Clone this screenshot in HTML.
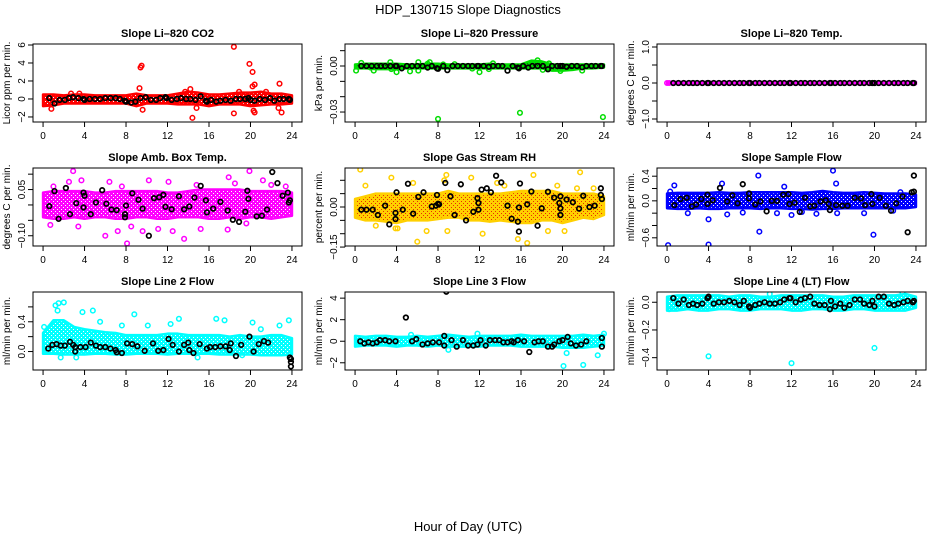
<!DOCTYPE html>
<html><head><meta charset="utf-8"><style>
body{margin:0;background:#fff}
svg{display:block;font-family:"Liberation Sans",Arial,sans-serif}
</style></head><body>
<svg id="chart" width="936" height="540" viewBox="0 0 936 540">
<defs id="defs"></defs>
<text x="468" y="14" font-size="13" text-anchor="middle">HDP_130715  Slope Diagnostics</text>
<text x="468" y="531" font-size="13" text-anchor="middle">Hour of Day (UTC)</text>
</svg>
<script>
// ---------- shared ----------
const xTicks = [0,4,8,12,16,20,24];
const hours = [0,1,2,3,4,5,6,7,8,9,10,11,12,13,14,15,16,17,18,19,20,21,22,23,24];
const blackHours = [0.6,1.1,1.6,2.1,2.5,2.9,3.4,3.9,4.0,4.5,5.0,5.5,6.0,6.5,7.0,7.4,7.9,8.0,8.5,8.9,9.4,9.9,10.4,10.9,11.3,11.8,11.9,12.4,12.9,13.3,13.8,14.2,14.7,15.2,15.7,15.8,16.2,16.7,17.1,17.6,18.1,18.6,19.0,19.5,19.8,20.0,20.4,20.9,21.4,21.9,22.3,22.8,23.2,23.7,23.8];

// ---------- P1 CO2 ----------
const co2Lo = [-0.8,-0.7,-0.5,-0.5,-0.5,-0.5,-0.5,-0.5,-0.5,-0.8,-0.5,-0.5,-0.5,-0.6,-0.6,-0.6,-0.8,-0.6,-0.6,-0.6,-0.8,-0.7,-0.6,-0.6,-0.5];
const co2Hi = [0.5,0.5,0.4,0.5,0.5,0.4,0.4,0.4,0.4,0.6,0.4,0.4,0.4,0.6,0.8,0.7,0.5,0.5,0.6,0.7,0.7,0.8,0.6,0.6,0.4];
const co2X = [9.4,9.5,9.3,9.6,0.8,14.4,14.2,14.8,18.4,18.4,19.9,20.2,20.4,20.2,20.3,20.4,22.8,23.0,22.7,21.5,13.7,18.9,2.7,3.5];
const co2Y = [3.5,3.7,1.2,-1.2,-1.1,-2.1,1.1,-1.0,5.8,-1.6,3.9,3.0,1.6,1.4,-1.3,-1.5,1.7,-1.5,-1.0,0.8,0.8,0.8,0.6,0.6];
const co2BlackY = [0.1,-0.5,-0.1,-0.1,0.1,0.2,0.1,0,-0.1,0,0,0,0.1,0.1,0.1,0,-0.2,-0.3,-0.4,-0.3,0.1,0.2,-0.1,-0.1,0.1,0.2,0.1,-0.1,0,0.1,0,0,-0.1,0.3,-0.2,-0.3,-0.1,-0.3,-0.2,-0.1,-0.2,0,0,0,0.1,-0.1,-0.2,0,-0.1,0.1,-0.2,0,0,0,-0.1];

// ---------- P2 pressure ----------
const prsLo = [-0.0015,-0.0015,-0.002,-0.002,-0.002,-0.0015,-0.0015,-0.0015,-0.0015,-0.0015,-0.0015,-0.0015,-0.0015,-0.0015,-0.0015,-0.0015,-0.0015,-0.0015,-0.0015,-0.003,-0.003,-0.0025,-0.0015,-0.0015,-0.001];
const prsHi = [0.001,0.0015,0.0015,0.0015,0.0015,0.001,0.001,0.0015,0.0015,0.001,0.001,0.001,0.001,0.0015,0.001,0.001,0.001,0.0035,0.003,0.001,0.001,0.001,0.001,0.001,0.001];
const prsX = [0.1,0.6,1.8,3.4,3.5,4.0,5.3,6.1,6.1,7.2,7.0,8.0,9.6,12.0,15.9,17.6,18.1,18.7,19.8,21.9,23.9,11.3,12.9,8.5,1.5,13.3];
const prsY = [-0.003,0.002,-0.003,0.0025,-0.002,-0.004,-0.0035,-0.003,0.0025,0.0025,0.0015,-0.0345,0.0012,-0.004,-0.0305,0.0037,-0.0025,0.0017,-0.0032,-0.003,-0.0333,-0.0017,-0.002,0.001,-0.001,0.0018];
const prsBlackY = [0,0,0,0,0,0,0,0,0,-0.0015,0,0,0,0,-0.001,0,-0.0015,-0.0018,0,-0.0027,0,0,0,0,0,0,0,0,-0.0005,0,0,0,-0.003,0,-0.001,-0.0015,0,-0.001,0,0,0,-0.0021,0,0,0,0,-0.0005,0,0,-0.0008,0,0,0,0,0];

// ---------- P3 Li-820 temp ----------
const tmpLo = [-0.03,-0.03,-0.03,-0.03,-0.03,-0.03,-0.03,-0.03,-0.03,-0.03,-0.03,-0.03,-0.03,-0.03,-0.03,-0.03,-0.03,-0.03,-0.03,-0.03,-0.03,-0.03,-0.03,-0.03,-0.03];
const tmpHi = [0.03,0.03,0.03,0.03,0.03,0.03,0.03,0.03,0.03,0.03,0.03,0.03,0.03,0.03,0.03,0.03,0.03,0.03,0.03,0.03,0.03,0.03,0.03,0.03,0.03];
const tmpX = [0.0,0.2];
const tmpY = [0,0];
const tmpBlackY = [0,0,0,0,0,0,0,0,0,0,0,0,0,0,0,0,0,0,0,0,0,0,0,0,0,0,0,0,0,0,0,0,0,0,0,0,0,0,0,0,0,0,0,0,0,0,0,0,0,0,0,0,0,0,0];

// ---------- P4 amb box temp ----------
const ambLo = [-0.04,-0.045,-0.045,-0.04,-0.045,-0.04,-0.04,-0.045,-0.045,-0.04,-0.04,-0.045,-0.045,-0.04,-0.04,-0.04,-0.045,-0.045,-0.04,-0.045,-0.04,-0.04,-0.045,-0.04,-0.035];
const ambHi = [0.04,0.045,0.045,0.045,0.045,0.04,0.04,0.045,0.045,0.045,0.045,0.045,0.04,0.04,0.045,0.05,0.05,0.05,0.05,0.05,0.045,0.045,0.045,0.045,0.04];
const ambX = [2.9,1.0,3.7,6.4,7.6,10.2,12.1,17.9,19.9,21.2,22.0,6.0,7.2,8.1,9.6,11.1,13.6,15.2,17.8,19.6,3.4,0.7,8.5,12.5,2.5,14.8,18.5,23.4];
const ambY = [0.11,0.06,0.08,0.075,0.06,0.08,0.075,0.09,0.11,0.08,0.065,-0.1,-0.085,-0.125,-0.085,-0.078,-0.11,-0.078,-0.08,-0.06,-0.07,-0.065,-0.07,-0.085,0.075,0.065,0.07,0.06];
const ambBX = [0.6,1.1,1.5,2.2,2.6,3.2,3.9,4.0,3.9,4.6,5.1,5.7,6.1,6.6,7.1,7.9,7.9,8.0,8.6,9.2,9.6,10.2,10.7,11.2,11.6,11.8,12.4,13.1,13.6,14.1,14.6,15.2,15.7,15.8,16.4,17.1,17.8,18.3,18.9,19.5,19.7,19.8,20.6,21.1,21.6,22.1,22.6,23.1,23.6,23.7,23.8];
const ambBY = [-0.004,0.045,-0.045,0.055,-0.03,0.006,0.04,0.03,-0.008,-0.03,0.008,0.048,0.004,-0.015,-0.017,-0.03,-0.04,-0.002,0.038,0.017,-0.012,-0.1,0.022,0.025,0.033,-0.006,-0.014,0.028,-0.014,-0.005,0.024,0.062,0.015,-0.024,-0.012,0.01,-0.018,-0.048,-0.055,-0.022,0.046,0.02,-0.037,-0.035,-0.015,0.107,0.071,0.03,0.04,0.008,0.015];

// ---------- P5 gas stream RH ----------
const rhLo = [-0.04,-0.05,-0.05,-0.055,-0.06,-0.05,-0.05,-0.05,-0.045,-0.04,-0.04,-0.05,-0.05,-0.055,-0.05,-0.055,-0.06,-0.06,-0.05,-0.05,-0.06,-0.05,-0.04,-0.045,-0.03];
const rhHi = [0.03,0.04,0.05,0.05,0.05,0.05,0.05,0.05,0.05,0.06,0.05,0.05,0.05,0.05,0.05,0.055,0.06,0.06,0.06,0.06,0.05,0.05,0.05,0.05,0.04];
const rhX = [0.5,1.0,3.5,4.8,6.0,3.9,4.1,6.9,8.8,8.9,12.3,15.7,16.6,17.2,18.6,20.2,21.4,21.7,13.7,11.2,8.6,5.6,2.0,14.4,19.5,23.0];
const rhY = [0.14,0.08,0.11,-0.16,-0.13,-0.08,-0.08,-0.09,0.12,-0.09,-0.1,-0.12,-0.135,0.12,-0.09,-0.09,0.07,0.13,0.09,0.11,0.1,0.09,-0.07,0.08,0.08,0.07];
const rhBX = [0.6,1.1,1.7,2.2,2.9,3.3,3.9,3.9,4.0,4.6,5.1,5.6,6.1,6.6,7.4,7.8,8.0,8.1,7.9,8.7,9.2,9.6,10.2,10.7,11.4,11.8,11.9,11.9,12.2,12.7,13.1,13.6,14.1,14.7,15.1,15.7,15.8,15.8,15.9,16.6,17.0,17.6,18.0,18.6,19.2,19.7,19.8,19.8,19.8,20.4,21.0,21.6,22.0,22.6,23.1,23.7,23.7,23.8];
const rhBY = [-0.01,-0.01,-0.01,-0.03,0.005,-0.065,-0.045,-0.022,0.055,-0.01,0.087,-0.025,0.038,0.055,0.002,0.005,0.012,0.01,0.045,0.09,0.04,-0.03,0.085,-0.05,-0.018,0.033,0.015,-0.01,0.065,0.07,0.055,0.117,0.092,0.005,-0.044,-0.055,-0.002,-0.092,0.088,0.01,0.058,-0.07,-0.005,0.057,0.035,0.015,0.04,-0.005,-0.03,0.028,0.018,-0.006,0.042,0.0,0.005,0.07,0.045,0.03];

// ---------- P6 sample flow ----------
const sfLo = [-0.12,-0.13,-0.13,-0.12,-0.13,-0.13,-0.12,-0.12,-0.12,-0.13,-0.12,-0.12,-0.13,-0.13,-0.14,-0.13,-0.13,-0.12,-0.12,-0.12,-0.12,-0.12,-0.12,-0.12,-0.1];
const sfHi = [0.12,0.13,0.13,0.13,0.13,0.14,0.13,0.13,0.14,0.14,0.14,0.14,0.14,0.13,0.14,0.16,0.14,0.13,0.13,0.14,0.13,0.12,0.12,0.12,0.1];
const sfX = [0.1,4.0,4.0,8.8,8.9,16.0,16.3,0.7,5.3,11.3,19.9,12.0,2.0,5.8,10.6,14.4,16.4,19.0,21.8,0.3,7.3,13.0,22.5];
const sfY = [-0.72,-0.71,-0.3,0.41,-0.5,0.49,0.28,0.25,0.28,0.23,-0.55,-0.23,-0.2,-0.22,-0.2,-0.21,-0.2,-0.2,-0.16,0.15,-0.19,-0.18,0.14];
const sfBX = [0.7,1.3,1.9,2.4,2.8,3.3,3.9,3.9,4.4,5.1,5.8,6.3,6.8,7.3,7.9,7.9,8.5,9.0,9.6,10.1,10.6,11.2,11.7,11.8,12.3,12.8,13.3,13.8,14.2,14.8,15.3,15.6,15.7,16.3,16.9,17.4,18.1,18.7,19.1,19.7,19.8,20.5,21.1,21.6,22.1,22.7,23.2,23.6,23.8,23.8];
const sfBY = [-0.07,0.03,0.05,-0.09,-0.06,0.03,0.1,-0.05,0.01,0.21,-0.01,0.09,-0.04,0.27,0.12,0.04,-0.06,-0.01,-0.17,0,0,0.1,0.11,-0.05,-0.03,-0.18,0.05,-0.09,-0.08,-0.01,0.01,-0.05,-0.15,-0.07,-0.08,-0.08,0.05,0.04,-0.07,0.11,-0.05,0.05,-0.08,-0.16,-0.04,0.07,-0.51,0.14,0.15,0.41];

// ---------- P7 line 2 flow ----------
const l2Lo = [-0.03,-0.03,-0.04,-0.04,-0.04,-0.03,-0.03,-0.04,-0.04,-0.03,-0.03,-0.03,-0.04,-0.03,-0.03,-0.03,-0.03,-0.04,-0.04,-0.04,-0.04,-0.05,-0.05,-0.05,-0.04];
const l2Hi = [0.25,0.42,0.42,0.33,0.3,0.28,0.26,0.25,0.22,0.22,0.22,0.22,0.24,0.24,0.22,0.22,0.22,0.22,0.2,0.22,0.2,0.2,0.22,0.22,0.18];
const l2X = [1.2,1.5,2.0,1.4,3.8,4.8,7.6,8.8,13.1,16.7,17.5,20.2,23.7,3.2,14.9,19.2,1.7,0.1,5.5,10.1,12.3,21.0,22.8];
const l2Y = [0.62,0.65,0.66,0.55,0.53,0.55,0.35,0.5,0.44,0.44,0.42,0.39,0.42,-0.08,-0.08,-0.05,-0.08,0.33,0.4,0.35,0.37,0.3,0.35];
const l2BX = [0.5,0.9,1.3,1.7,2.1,2.6,2.9,3.1,3.1,3.6,4.1,4.6,5.1,5.5,6.0,6.5,7.0,7.1,7.6,8.1,8.6,9.1,9.8,10.6,11.1,11.6,12.1,12.5,13.1,13.6,14.0,14.1,14.5,15.1,15.8,16.1,16.6,17.1,17.6,18.0,18.1,18.6,19.1,19.9,20.3,20.8,21.3,21.7,23.8,23.9,23.9,23.9];
const l2BY = [0.04,0.09,0.1,0.08,0.08,0.13,0.09,0.0,0.06,0.06,0.06,0.12,0.08,0.06,0.06,0.04,0.02,-0.01,-0.02,0.11,0.1,0.07,0.01,0.11,0.01,0.02,0.17,0.09,0.0,0.09,0.12,0.02,-0.02,0.1,0.04,0.06,0.06,0.07,0.07,0.02,0.11,-0.06,0.09,0.2,0.0,0.1,0.14,0.12,-0.08,-0.1,-0.14,-0.2];

// ---------- P8 line 3 flow ----------
const l3Lo = [-0.5,-0.4,-0.4,-0.4,-0.5,-0.4,-0.4,-0.5,-0.4,-0.5,-0.5,-0.5,-0.5,-0.4,-0.4,-0.4,-0.5,-0.5,-0.5,-0.5,-0.6,-0.6,-0.6,-0.5,-0.4];
const l3Hi = [0.5,0.4,0.5,0.5,0.4,0.4,0.5,0.4,0.5,0.6,0.5,0.4,0.5,0.5,0.5,0.5,0.6,0.5,0.5,0.5,0.5,0.5,0.6,0.5,0.6];
const l3X = [20.1,20.4,22.0,23.4,9.0,11.8,5.4,24.0];
const l3Y = [-2.3,-1.1,-2.2,-1.3,-0.8,0.7,0.6,0.7];
const l3BX = [0.5,0.9,1.3,1.7,2.1,2.4,2.9,3.3,3.9,4.9,5.5,5.9,6.5,7.0,7.5,8.1,8.6,8.6,8.8,9.3,9.8,10.4,10.9,11.4,11.8,12.1,12.6,13.0,13.5,13.9,14.3,14.7,15.1,15.3,15.7,16.3,16.8,17.3,17.7,18.1,18.6,19.0,19.2,19.7,20.0,20.5,20.8,21.3,21.8,22.3,23.8,23.8];
const l3BY = [0,-0.2,-0.1,-0.2,-0.1,0.1,0.1,0,0,2.2,0,0.2,-0.3,-0.2,-0.1,-0.1,0.5,-0.4,4.6,0.1,-0.5,0.1,-0.4,-0.4,-0.3,0.1,-0.4,0.1,0.1,0.1,-0.1,-0.1,0,-0.1,0.1,0,-1.0,-0.1,0,0,-0.5,-0.5,-0.3,0,0.1,0.4,-0.2,-0.4,-0.3,0,0.3,-0.5];

// ---------- P9 line 4 flow ----------
const l4Lo = [-0.06,-0.06,-0.05,-0.06,-0.06,-0.05,-0.05,-0.06,-0.06,-0.05,-0.05,-0.05,-0.06,-0.06,-0.05,-0.05,-0.06,-0.06,-0.05,-0.05,-0.06,-0.06,-0.06,-0.06,-0.04];
const l4Hi = [0.04,0.05,0.05,0.05,0.05,0.05,0.04,0.05,0.05,0.04,0.04,0.05,0.05,0.05,0.05,0.05,0.04,0.04,0.05,0.05,0.05,0.05,0.05,0.06,0.04];
const l4X = [4.0,12.0,20.0,22.7,0.2,9.9];
const l4Y = [-0.39,-0.44,-0.33,0.07,-0.05,0.06];
const l4BlackY = [0.03,-0.01,0.02,-0.02,-0.01,-0.02,-0.01,0.03,0.04,-0.01,0,0,0.01,0,-0.02,0.01,-0.03,-0.04,-0.02,-0.01,0,-0.01,-0.01,0,0.02,0.03,0.03,0,0.02,0.03,0.04,-0.01,-0.02,-0.02,-0.05,0.01,-0.03,-0.01,-0.04,-0.02,0.02,0.02,-0.01,-0.02,0.01,-0.03,0.04,0.04,-0.01,-0.02,-0.01,0,0.01,0,0.01];

// ---------- layout ----------
const colX = [33,345,657];
const rowY = [44,168,292];
const boxW = 269, boxH = 78;
const NS = 'http://www.w3.org/2000/svg';
const svg = document.getElementById('chart');
const defs = document.getElementById('defs');
function mk(tag, attrs, parent){ const e=document.createElementNS(NS,tag); for(const k in attrs) e.setAttribute(k,attrs[k]); (parent||svg).appendChild(e); return e; }

const panels = [
 {name:'co2', title:'Slope Li\u2013820 CO2', ylab:'Licor ppm per min.', col:0,row:0, ylim:[-2.56,6.11], yt:[-2,0,2,4,6], ytl:['\u22122','0','2','4','6'], color:'#ff0000', dot:'#ffffff', lo:co2Lo, hi:co2Hi, cx:co2X, cy:co2Y, bx:blackHours, by:co2BlackY},
 {name:'pressure', title:'Slope Li\u2013820 Pressure', ylab:'kPa per min.', col:1,row:0, ylim:[-0.0365,0.01435], yt:[-0.03,-0.02,-0.01,0,0.01], ytl:['\u22120.03','','','0.00',''], color:'#00dd00', dot:'#005500', lo:prsLo, hi:prsHi, cx:prsX, cy:prsY, bx:blackHours, by:prsBlackY},
 {name:'li820-temp', title:'Slope Li\u2013820 Temp.', ylab:'degrees C per min.', col:2,row:0, ylim:[-1.083,1.083], yt:[-1,-0.5,0,0.5,1], ytl:['\u22121.0','','0.0','','1.0'], color:'#ff00ff', dot:'#ff00ff', lo:tmpLo, hi:tmpHi, cx:tmpX, cy:tmpY, bx:blackHours, by:tmpBlackY},
 {name:'amb-box-temp', title:'Slope Amb. Box Temp.', ylab:'degrees C per min.', col:0,row:1, ylim:[-0.1333,0.12], yt:[-0.10,-0.05,0,0.05,0.10], ytl:['\u22120.10','','','0.05',''], color:'#ff00ff', dot:'#ffffff', lo:ambLo, hi:ambHi, cx:ambX, cy:ambY, bx:ambBX, by:ambBY},
 {name:'gas-stream-rh', title:'Slope Gas Stream RH', ylab:'percent per min.', col:1,row:1, ylim:[-0.146,0.146], yt:[-0.15,-0.10,-0.05,0,0.05,0.10], ytl:['\u22120.15','','','0.00','',''], color:'#ffd000', dot:'#e83000', lo:rhLo, hi:rhHi, cx:rhX, cy:rhY, bx:rhBX, by:rhBY},
 {name:'sample-flow', title:'Slope Sample Flow', ylab:'ml/min per min.', col:2,row:1, ylim:[-0.733,0.533], yt:[-0.6,-0.4,-0.2,0,0.2,0.4], ytl:['\u22120.6','','','0.0','','0.4'], color:'#0000ff', dot:'#ffffff', lo:sfLo, hi:sfHi, cx:sfX, cy:sfY, bx:sfBX, by:sfBY},
 {name:'line2-flow', title:'Slope Line 2 Flow', ylab:'ml/min per min.', col:0,row:2, ylim:[-0.248,0.8], yt:[0,0.2,0.4,0.6], ytl:['0.0','','0.4',''], color:'#00ffff', dot:'#ffffff', lo:l2Lo, hi:l2Hi, cx:l2X, cy:l2Y, bx:l2BX, by:l2BY},
 {name:'line3-flow', title:'Slope Line 3 Flow', ylab:'ml/min per min.', col:1,row:2, ylim:[-2.67,4.57], yt:[-2,0,2,4], ytl:['\u22122','0','2','4'], color:'#00ffff', dot:'#ffffff', lo:l3Lo, hi:l3Hi, cx:l3X, cy:l3Y, bx:l3BX, by:l3BY},
 {name:'line4-flow', title:'Slope Line 4 (LT) Flow', ylab:'ml/min per min.', col:2,row:2, ylim:[-0.489,0.074], yt:[-0.4,-0.2,0], ytl:['\u22120.4','\u22120.2','0.0'], color:'#00ffff', dot:'#ffffff', lo:l4Lo, hi:l4Hi, cx:l4X, cy:l4Y, bx:blackHours, by:l4BlackY}
];

panels.forEach(p=>{
  const bx0 = colX[p.col], by0 = rowY[p.row];
  const xs = h => bx0 + 10.06 + h*(boxW-20.1)/24;
  const ys = v => by0 + boxH - (v-p.ylim[0])/(p.ylim[1]-p.ylim[0])*boxH;
  // texture pattern resembling overlapping open circles
  const pat = mk('pattern',{id:'pat-'+p.name,width:4,height:4,patternUnits:'userSpaceOnUse'},defs);
  mk('rect',{x:0,y:0,width:4,height:4,fill:p.color},pat);
  mk('rect',{x:1,y:1,width:1,height:1,fill:p.dot},pat);
  mk('rect',{x:3,y:3,width:1,height:1,fill:p.dot},pat);

  const g = mk('g',{});
  
  
  const clipId='clip-'+p.name;
  const cp = mk('clipPath',{id:clipId},g); mk('rect',{x:bx0,y:by0,width:boxW,height:boxH},cp);
  const plot = mk('g',{'clip-path':'url(#'+clipId+')'},g);
  
  
  let pts=[];
  hours.forEach((h,i)=>pts.push(xs(h)+','+ys(p.hi[i])));
  for(let i=hours.length-1;i>=0;i--) pts.push(xs(hours[i])+','+ys(p.lo[i]));
  const band = mk('polygon',{points:pts.join(' '),fill:'url(#pat-'+p.name+')',stroke:p.color,'stroke-width':2.5,'stroke-linejoin':'round'},plot);
  
  
  p.cx.forEach((h,i)=>{
    const c = mk('circle',{cx:xs(h),cy:ys(p.cy[i]),r:2.3,fill:'none',stroke:p.color,'stroke-width':1.5},plot);
    
    
  });
  const n = Math.min(p.bx.length,p.by.length);
  for(let i=0;i<n;i++){
    const c = mk('circle',{cx:xs(p.bx[i]),cy:ys(p.by[i]),r:2.3,fill:'none',stroke:'#000','stroke-width':1.7},plot);
    
    
  }
  const box = mk('rect',{x:bx0,y:by0,width:boxW,height:boxH,fill:'none',stroke:'#000','stroke-width':1},g);
  
  
  const t = mk('text',{x:bx0+boxW/2,y:by0-7,'font-size':11,'font-weight':'bold','text-anchor':'middle'},g);
  t.textContent = p.title;
  
  
  const xa = mk('g',{},g);
  
  
  mk('line',{x1:xs(xTicks[0]),x2:xs(xTicks[xTicks.length-1]),y1:by0+boxH,y2:by0+boxH,stroke:'#000'},xa);
  xTicks.forEach(v=>{
    mk('line',{x1:xs(v),x2:xs(v),y1:by0+boxH,y2:by0+boxH+5,stroke:'#000'},xa);
    const l = mk('text',{x:xs(v),y:by0+boxH+17,'font-size':10,'text-anchor':'middle'},xa);
    l.textContent = String(v);
    
    
  });
  const ya = mk('g',{},g);
  
  
  mk('line',{x1:bx0,x2:bx0,y1:ys(p.yt[0]),y2:ys(p.yt[p.yt.length-1]),stroke:'#000'},ya);
  p.yt.forEach((v,i)=>{
    mk('line',{x1:bx0-5,x2:bx0,y1:ys(v),y2:ys(v),stroke:'#000'},ya);
    if(p.ytl[i]){
      const lx = bx0-8, ly = ys(v);
      const l = mk('text',{x:lx,y:ly,'font-size':10,'text-anchor':'middle',transform:'rotate(-90 '+lx+' '+ly+')'},ya);
      l.textContent = p.ytl[i];
      
      
    }
  });
  const yx = bx0-23, yy = by0+boxH/2;
  const yl = mk('text',{x:yx,y:yy,'font-size':10,'text-anchor':'middle',transform:'rotate(-90 '+yx+' '+yy+')'},g);
  yl.textContent = p.ylab;
  
  
});
</script>
</body></html>
